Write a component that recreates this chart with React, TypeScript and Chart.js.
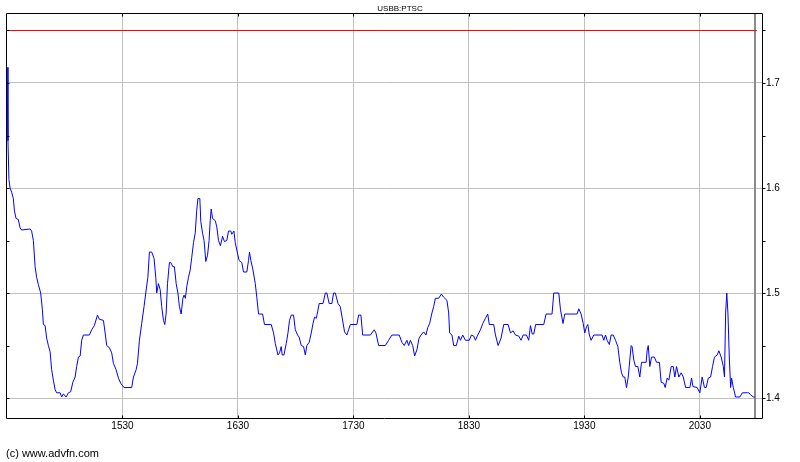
import React, { useEffect, useRef } from "react";
import { Chart, registerables } from "chart.js";

Chart.register(...registerables);

const TITLE = "USBB:PTSC";
const COPYRIGHT = "(c) www.advfn.com";
const SESSION_START = 870; // 14:30 in minutes since midnight
const AXIS_END = 1262.3;
const ALERT_LEVEL = 1.75;

// minutes after 14:30
const minutesAfterStart = [
  0, 0.5, 1.0, 1.6, 2.4, 3.3, 3.8, 4.7, 5.9, 6.8, 7.6, 12, 12.8, 13.7, 14.6, 15.4, 16.3, 17.5, 18.4, 18.9,
  19.8, 20.6, 21.5, 22.4, 23.2, 24.1, 25, 25.8, 27.6, 28.4, 29.3, 30.7, 31.9, 33.1, 34.2, 35.4, 36.2, 37.1, 38, 38.8,
  39.7, 42.8, 44, 45.4, 47, 48, 50.1, 51, 51.8, 53.2, 54.4, 55.3, 56.7, 57.9, 59.1, 60.8, 64.8, 65.7, 67.1, 67.8,
  68.8, 70, 71.2, 72.1, 73.2, 74, 75.2, 76.4, 77.3, 77.8, 78.7, 79.6, 80.4, 81.3, 82, 82.7, 83.4, 84.4, 85.1, 86.2,
  87, 87.9, 88.8, 89.6, 90.5, 91.4, 92, 92.7, 93.4, 94.3, 95.2, 96, 96.9, 97.8, 98.6, 99.2, 100.2, 100.7, 101.6, 102.4,
  103.3, 104.2, 105, 105.6, 106.1, 106.8, 108.2, 109, 109.9, 110.9, 112, 113, 114.2, 115.1, 116.3, 116.8, 117.9, 118.6, 119.4, 120.6,
  122, 122.9, 124.6, 125.5, 126, 126.7, 127.8, 129, 129.8, 130.7, 132.8, 133.8, 137.3, 138.5, 139.4, 140.8, 141.6, 142.5, 143, 143.9,
  145.1, 146, 146.8, 147.7, 148.9, 149.8, 151, 151.8, 152.9, 154.1, 155, 155.8, 157, 158.1, 159, 159.8, 160.7, 161.4, 162.2, 164.2,
  165.4, 166.2, 167.4, 168.8, 169.7, 170.6, 172, 173.2, 174.1, 175.4, 176.6, 177.5, 178.4, 181.8, 182.7, 183.9, 184.8, 188.8, 190.8, 191.7,
  193.1, 196.6, 198.3, 200, 203.8, 205.2, 206.4, 207.8, 208.7, 209.6, 210.8, 211.8, 213, 214.1, 215.1, 216.5, 217.7, 218.6, 219.6, 220.8,
  221.7, 222.6, 224.3, 225.7, 226.9, 228.6, 229.5, 230, 231.2, 232.1, 233.5, 234.7, 235.6, 236.8, 238.2, 240.2, 241.3, 242.5, 243.4, 244.6,
  246, 247.2, 248.6, 249.8, 250.6, 252.9, 253.8, 255.2, 256.7, 258.1, 260.4, 261.6, 263, 264.2, 265.9, 267.1, 268.2, 269.9, 271.1, 272,
  272.9, 273.7, 274.7, 278.9, 280.1, 283.2, 284.1, 286.7, 287.6, 288.9, 289.8, 292.8, 296.2, 297.1, 298.3, 299.4, 300.2, 301.1, 301.8, 302.6,
  303.5, 304.9, 309.2, 310.1, 311, 311.8, 313, 313.9, 315, 316.2, 317.4, 318.4, 319.3, 320.2, 321, 321.9, 322.8, 323.3, 324.3, 324.8,
  325.7, 326.6, 327.8, 328.8, 329.7, 332.1, 332.6, 333.2, 334, 334.9, 336.4, 337.5, 339, 339.9, 341.3, 342, 343, 343.9, 345.1, 346.2,
  347, 347.9, 349.1, 350.3, 351.4, 352.6, 354.8, 355.7, 356.4, 358.6, 360, 361.2, 362.4, 363.3, 364.4, 365.6, 366.6, 367.6, 369, 369.9,
  371.1, 372.2, 372.8, 373.4, 374, 374.6, 375.3, 376, 376.5, 377.4, 378.6, 380.8, 382.1, 384.7, 385.5, 386.4, 387.8, 388.6,
];

const prices = [
  1.715, 1.645, 1.608, 1.6, 1.596, 1.59, 1.579, 1.571, 1.57, 1.562, 1.56, 1.561, 1.559, 1.55, 1.525, 1.515, 1.508, 1.5, 1.484, 1.47,
  1.469, 1.457, 1.45, 1.444, 1.427, 1.417, 1.408, 1.405, 1.405, 1.401, 1.404, 1.401, 1.405, 1.406, 1.415, 1.42, 1.43, 1.439, 1.44, 1.455,
  1.46, 1.46, 1.465, 1.469, 1.479, 1.475, 1.474, 1.462, 1.45, 1.448, 1.443, 1.433, 1.427, 1.419, 1.414, 1.41, 1.41, 1.42, 1.427, 1.433,
  1.455, 1.471, 1.487, 1.5, 1.515, 1.539, 1.539, 1.533, 1.515, 1.5, 1.509, 1.503, 1.487, 1.474, 1.47, 1.481, 1.509, 1.529, 1.529, 1.525,
  1.525, 1.509, 1.5, 1.487, 1.48, 1.495, 1.498, 1.495, 1.506, 1.515, 1.522, 1.534, 1.548, 1.557, 1.579, 1.59, 1.59, 1.568, 1.557, 1.55,
  1.53, 1.536, 1.55, 1.569, 1.58, 1.571, 1.569, 1.563, 1.55, 1.545, 1.554, 1.549, 1.55, 1.559, 1.559, 1.556, 1.559, 1.548, 1.541, 1.531,
  1.529, 1.52, 1.52, 1.531, 1.539, 1.531, 1.522, 1.509, 1.496, 1.48, 1.48, 1.47, 1.47, 1.462, 1.452, 1.441, 1.443, 1.449, 1.441, 1.441,
  1.452, 1.462, 1.474, 1.479, 1.479, 1.465, 1.46, 1.458, 1.45, 1.449, 1.441, 1.45, 1.453, 1.462, 1.471, 1.477, 1.476, 1.482, 1.49, 1.49,
  1.5, 1.5, 1.49, 1.49, 1.5, 1.5, 1.49, 1.487, 1.477, 1.463, 1.46, 1.465, 1.47, 1.47, 1.479, 1.479, 1.46, 1.46, 1.465, 1.462,
  1.45, 1.45, 1.455, 1.46, 1.46, 1.453, 1.45, 1.455, 1.45, 1.455, 1.45, 1.44, 1.446, 1.457, 1.46, 1.463, 1.46, 1.467, 1.471, 1.481,
  1.487, 1.495, 1.495, 1.499, 1.496, 1.493, 1.481, 1.462, 1.46, 1.45, 1.45, 1.459, 1.455, 1.46, 1.455, 1.455, 1.46, 1.459, 1.455, 1.46,
  1.465, 1.471, 1.476, 1.48, 1.47, 1.47, 1.46, 1.45, 1.457, 1.47, 1.47, 1.462, 1.464, 1.46, 1.459, 1.455, 1.46, 1.46, 1.455, 1.469,
  1.461, 1.461, 1.47, 1.47, 1.48, 1.48, 1.5, 1.5, 1.484, 1.471, 1.48, 1.48, 1.48, 1.485, 1.48, 1.471, 1.462, 1.468, 1.47, 1.46,
  1.455, 1.46, 1.46, 1.455, 1.46, 1.455, 1.451, 1.46, 1.46, 1.455, 1.449, 1.434, 1.424, 1.42, 1.42, 1.41, 1.42, 1.43, 1.45, 1.449,
  1.436, 1.43, 1.43, 1.42, 1.434, 1.434, 1.445, 1.45, 1.43, 1.439, 1.439, 1.434, 1.434, 1.415, 1.414, 1.41, 1.419, 1.417, 1.43, 1.43,
  1.42, 1.43, 1.42, 1.424, 1.42, 1.41, 1.41, 1.419, 1.411, 1.41, 1.405, 1.42, 1.41, 1.41, 1.419, 1.42, 1.43, 1.439, 1.441, 1.445,
  1.439, 1.43, 1.42, 1.481, 1.5, 1.481, 1.439, 1.41, 1.419, 1.41, 1.401, 1.401, 1.405, 1.405, 1.405, 1.403, 1.401, 1.401,
];

const xTickTimes = [930, 990, 1050, 1110, 1170, 1230];
const xTickLabels = ["1530", "1630", "1730", "1830", "1930", "2030"];
const yTickValues = [1.4, 1.45, 1.5, 1.55, 1.6, 1.65, 1.7, 1.75];
const yLabelValues = [1.4, 1.5, 1.6, 1.7];
const Y_MIN = 1.381;
const Y_MAX = 1.7657;

const isLabelled = (v: number) => yLabelValues.some((l) => Math.abs(l - v) < 1e-6);

const framePlugin = {
  id: "advfnFrame",
  beforeDatasetsDraw(chart: any) {
    const { ctx, chartArea: a, scales } = chart;
    const endTime = SESSION_START + minutesAfterStart[minutesAfterStart.length - 1];
    const xe = Math.round(scales.x.getPixelForValue(endTime));
    ctx.save();
    ctx.strokeStyle = "#8a8a8a";
    ctx.lineWidth = 2;
    ctx.beginPath();
    ctx.moveTo(xe, a.top);
    ctx.lineTo(xe, a.bottom);
    ctx.stroke();
    ctx.restore();
  },
  afterDraw(chart: any) {
    const { ctx, chartArea: a, scales } = chart;
    ctx.save();
    ctx.strokeStyle = "#000";
    ctx.lineWidth = 1;
    const L = a.left - 0.5, T = a.top - 0.5, R = a.right + 0.5, B = a.bottom + 0.5;
    ctx.beginPath();
    ctx.moveTo(L, T); ctx.lineTo(R, T); ctx.lineTo(R, B); ctx.lineTo(L, B); ctx.closePath();
    ctx.stroke();
    ctx.beginPath();
    xTickTimes.forEach((t) => {
      const px = Math.round(scales.x.getPixelForValue(t)) + 0.5;
      ctx.moveTo(px, T); ctx.lineTo(px, T + 3);
      ctx.moveTo(px, B); ctx.lineTo(px, B - 3);
    });
    yTickValues.forEach((v) => {
      const py = Math.round(scales.y.getPixelForValue(v)) + 0.5;
      ctx.moveTo(L, py); ctx.lineTo(L + 3, py);
      ctx.moveTo(R, py); ctx.lineTo(R + 3, py);
    });
    ctx.stroke();
    ctx.fillStyle = "#000";
    ctx.textBaseline = "middle";
    ctx.font = "8px 'Liberation Sans', Arial, sans-serif";
    ctx.textAlign = "center";
    ctx.fillText(TITLE, 400, 9);
    ctx.font = "11px 'Liberation Sans', Arial, sans-serif";
    ctx.textAlign = "left";
    ctx.fillText(COPYRIGHT, 6, 454);
    ctx.restore();
  },
};

export default function App() {
  const ref = useRef<HTMLCanvasElement | null>(null);
  useEffect(() => {
    if (!ref.current) return;
    const lastTime = SESSION_START + minutesAfterStart[minutesAfterStart.length - 1];
    const chart = new Chart(ref.current, {
      type: "line",
      data: {
        datasets: [
          {
            data: minutesAfterStart.map((m, i) => ({ x: SESSION_START + m, y: prices[i] })),
            borderColor: "#0000ff",
            borderWidth: 1,
            pointRadius: 0,
            tension: 0,
            fill: false,
          },
          {
            data: [
              { x: SESSION_START, y: ALERT_LEVEL },
              { x: lastTime + 1, y: ALERT_LEVEL },
            ],
            borderColor: "#ff0000",
            borderWidth: 1,
            pointRadius: 0,
            fill: false,
          },
        ],
      },
      options: {
        animation: false,
        responsive: false,
        devicePixelRatio: 1,
        layout: { padding: { left: 7, top: 14, right: 0, bottom: 0 } },
        plugins: { legend: { display: false }, tooltip: { enabled: false }, title: { display: false } },
        scales: {
          x: {
            type: "linear",
            min: SESSION_START,
            max: AXIS_END,
            afterBuildTicks: (s: any) => {
              s.ticks = xTickTimes.map((v) => ({ value: v }));
            },
            afterFit: (s: any) => {
              s.height = 44;
            },
            ticks: {
              autoSkip: false,
              maxRotation: 0,
              padding: 2,
              color: "#000",
              font: { family: "'Liberation Sans', Arial, sans-serif", size: 10 },
              callback: (v: any) => {
                const i = xTickTimes.indexOf(Number(v));
                return i >= 0 ? xTickLabels[i] : "";
              },
            },
            grid: { color: "#c0c0c0", lineWidth: 1, drawTicks: false },
            border: { display: false },
          },
          y: {
            position: "right",
            min: Y_MIN,
            max: Y_MAX,
            afterBuildTicks: (s: any) => {
              s.ticks = yTickValues.map((v) => ({ value: v }));
            },
            afterFit: (s: any) => {
              s.width = 38;
            },
            ticks: {
              autoSkip: false,
              padding: 4,
              color: "#000",
              font: { family: "'Liberation Sans', Arial, sans-serif", size: 10 },
              callback: (v: any) => (isLabelled(Number(v)) ? Number(v).toFixed(1) : ""),
            },
            grid: {
              drawTicks: false,
              lineWidth: 1,
              color: (c: any) => (c.tick && isLabelled(c.tick.value) ? "#c0c0c0" : "rgba(0,0,0,0)"),
            },
            border: { display: false },
          },
        },
      },
      plugins: [framePlugin],
    });
    return () => chart.destroy();
  }, []);
  return (
    <div style={{ position: "absolute", left: 0, top: 0, width: 800, height: 462, background: "#fff" }}>
      <canvas ref={ref} width={800} height={462} />
    </div>
  );
}
